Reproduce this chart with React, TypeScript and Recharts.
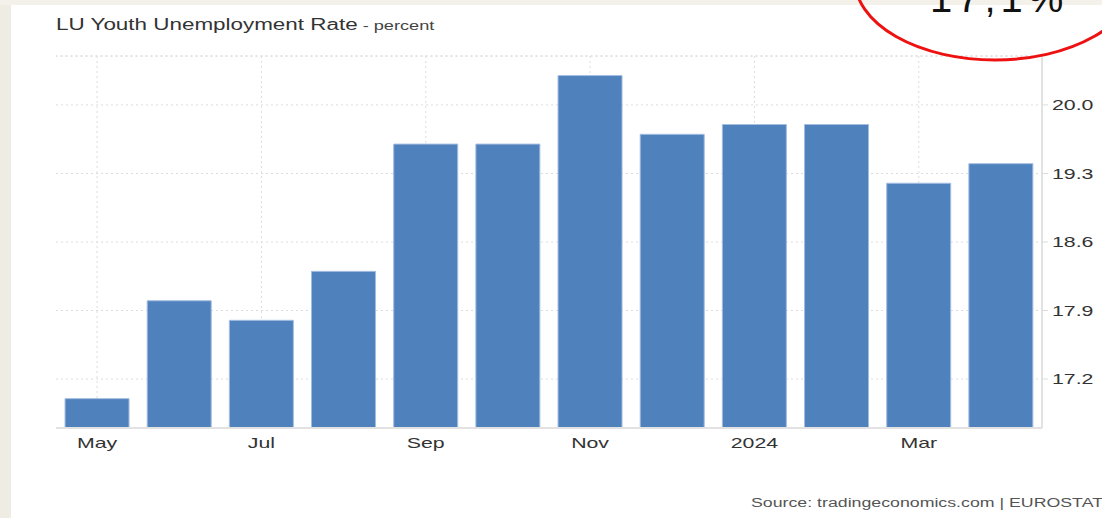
import React from 'react';
import { Bar, BarChart, CartesianGrid, ReferenceLine, XAxis, YAxis } from 'recharts';

const months = ['May', 'Jun', 'Jul', 'Aug', 'Sep', 'Oct', 'Nov', 'Dec', '2024', 'Feb', 'Mar', 'Apr'];
const rates = [17.0, 18.0, 17.8, 18.3, 19.6, 19.6, 20.3, 19.7, 19.8, 19.8, 19.2, 19.4];
const yTicks = [17.2, 17.9, 18.6, 19.3, 20.0];
const labeledMonths = ['May', 'Jul', 'Sep', 'Nov', '2024', 'Mar'];

const data = months.map((month, i) => ({ month, rate: rates[i] }));

const FONT = '"Liberation Sans", Arial, sans-serif';
const STRETCH = 1.42;
const GRID = '#dcdcdc';

function XTick({ x, y, payload }: any) {
  return (
    <g transform={`translate(${x},${y + 20}) scale(${STRETCH},1)`}>
      <text textAnchor="middle" fontFamily={FONT} fontSize={15} fill="#333">
        {payload.value}
      </text>
    </g>
  );
}

function YTick({ x, y, payload }: any) {
  return (
    <g transform={`translate(${x},${y}) scale(${STRETCH},1)`}>
      <text textAnchor="start" dy="0.36em" fontFamily={FONT} fontSize={15} fill="#333">
        {Number(payload.value).toFixed(1)}
      </text>
    </g>
  );
}

export default function App() {
  return (
    <div style={{ position: 'fixed', left: 0, top: 0, width: 1102, height: 518, background: '#fff', overflow: 'hidden' }}>
      <BarChart
        width={1102}
        height={518}
        data={data}
        margin={{ top: 56, right: 0, left: 56, bottom: 60 }}
        barCategoryGap="11%"
      >
        <CartesianGrid vertical={false} stroke={GRID} strokeDasharray="2 3" />
        {labeledMonths.map((m) => (
          <ReferenceLine key={m} x={m} stroke={GRID} strokeDasharray="2 3" zIndex={-10} />
        ))}
        <ReferenceLine y={20.5} stroke={GRID} strokeDasharray="2 3" />
        <XAxis
          dataKey="month"
          interval={1}
          height={30}
          tickLine={false}
          tickSize={0}
          tickMargin={0}
          axisLine={{ stroke: '#e2e2e2', strokeWidth: 2 }}
          tick={<XTick />}
        />
        <YAxis
          yAxisId="left"
          orientation="left"
          width={0}
          tick={false}
          tickLine={false}
          domain={[16.7, 20.5]}
          axisLine={{ stroke: '#e2e2e2', strokeWidth: 2 }}
        />
        <YAxis
          orientation="right"
          width={60}
          domain={[16.7, 20.5]}
          ticks={yTicks}
          allowDataOverflow
          tickSize={6}
          tickMargin={4}
          tickLine={{ stroke: GRID }}
          axisLine={{ stroke: '#e2e2e2', strokeWidth: 2 }}
          tick={<YTick />}
        />
        <Bar dataKey="rate" fill="#4f81bd" stroke="#a3bde0" strokeWidth={1} isAnimationActive={false} />
      </BarChart>

      <svg width={1102} height={518} style={{ position: 'absolute', left: 0, top: 0, pointerEvents: 'none' }}>
        <rect x={0} y={0} width={11} height={518} fill="#efede3" />
        <rect x={0} y={0} width={1102} height={5} fill="#f3f1ea" />
        <g transform={`translate(56,30) scale(${STRETCH},1)`}>
          <text fontFamily={FONT} fill="#333">
            <tspan fontSize={15.8}>LU Youth Unemployment Rate</tspan>
            <tspan fontSize={12.8} fill="#444"> - percent</tspan>
          </text>
        </g>
        <g transform={`translate(1103,507) scale(${STRETCH},1)`}>
          <text textAnchor="end" fontFamily={FONT} fontSize={12.5} fill="#555">
            Source: tradingeconomics.com | EUROSTAT
          </text>
        </g>
        <ellipse cx={995} cy={-20} rx={140} ry={80} fill="none" stroke="#ee1111" strokeWidth={3} />
        <text x={930} y={12} fontFamily={FONT} fontSize={40} letterSpacing={5} fill="#111">
          17,1%
        </text>
      </svg>
    </div>
  );
}
